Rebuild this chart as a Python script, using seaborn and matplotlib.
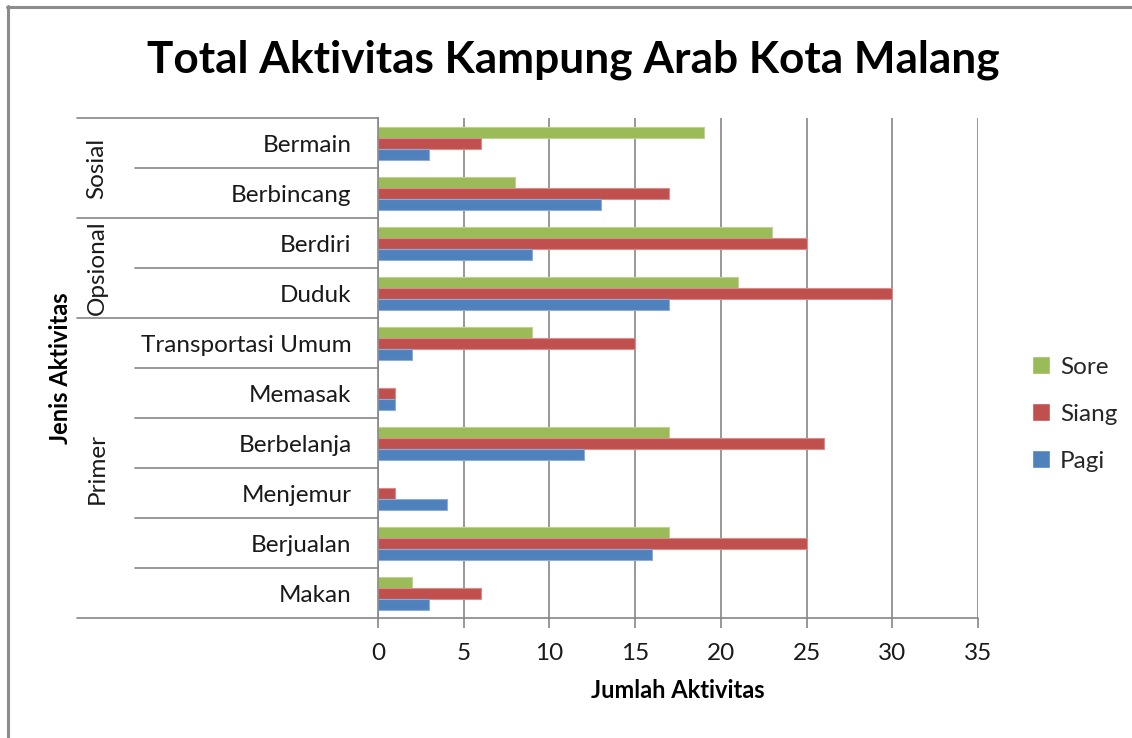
import matplotlib
matplotlib.use("Agg")
import matplotlib.pyplot as plt
import matplotlib.colors as mcolors
from matplotlib.lines import Line2D
from matplotlib.transforms import blended_transform_factory
import seaborn as sns
import pandas as pd

# Activities listed top to bottom
activities = ["Bermain", "Berbincang", "Berdiri", "Duduk", "Transportasi Umum",
              "Memasak", "Berbelanja", "Menjemur", "Berjualan", "Makan"]
# (group name, first index, end index) over the activity list
groups = [("Sosial", 0, 2), ("Opsional", 2, 4), ("Primer", 4, 10)]

sore = [19, 8, 23, 21, 9, 0, 17, 0, 17, 2]
siang = [6, 17, 25, 30, 15, 1, 26, 1, 25, 6]
pagi = [3, 13, 9, 17, 2, 1, 12, 4, 16, 3]

periods = ["Sore", "Siang", "Pagi"]
colors = ["#9BBB59", "#C0504D", "#4F81BD"]
x_ticks = [0, 5, 10, 15, 20, 25, 30, 35]

title = "Total Aktivitas Kampung Arab Kota Malang"
x_title = "Jumlah Aktivitas"
y_title = "Jenis Aktivitas"

rows = []
for name, values in zip(periods, [sore, siang, pagi]):
    for act, v in zip(activities, values):
        rows.append({"Aktivitas": act, "Waktu": name, "Jumlah": v})
df = pd.DataFrame(rows)

sns.set_theme(style="white")
plt.rcParams["font.family"] = ["Lato", "DejaVu Sans"]

W, H = 1132, 738
fig = plt.figure(figsize=(W / 100, H / 100), dpi=100)
fig.patch.set_facecolor("white")


def fx(px):
    return px / W


def fy(py):
    return 1 - py / H


ax = fig.add_axes([fx(378), fy(618), fx(978) - fx(378), fy(118) - fy(618)])

sns.barplot(data=df, y="Aktivitas", x="Jumlah", hue="Waktu",
            order=activities, hue_order=periods, palette=colors,
            orient="h", width=0.66, gap=0, errorbar=None, saturation=1,
            ax=ax)

# light outline on each bar, a tint of its fill
for cont, col in zip(ax.containers, colors):
    rgb = mcolors.to_rgb(col)
    edge = tuple(c + (1 - c) * 0.35 for c in rgb)
    for bar in cont:
        if bar.get_width() == 0:
            bar.set_visible(False)
        bar.set_edgecolor(edge)
        bar.set_linewidth(0.8)

handles, labels = ax.get_legend_handles_labels()
if ax.legend_ is not None:
    ax.legend_.remove()

grid_col = "#868686"
text_col = "#1a1a1a"
fs = 17.5
ax.set_xlim(0, 35)
ax.set_ylim(len(activities) - 0.5, -0.5)
ax.set_xticks(x_ticks)
ax.set_xticklabels([str(t) for t in x_ticks])
ax.xaxis.grid(True, color=grid_col, linewidth=1.2)
ax.yaxis.grid(False)
ax.set_axisbelow(True)
for side in ["top", "right", "bottom"]:
    ax.spines[side].set_visible(False)
ax.spines["left"].set_color(grid_col)
ax.spines["left"].set_linewidth(1.2)
ax.tick_params(axis="x", direction="out", length=7, width=1.2, color=grid_col,
               labelsize=fs, labelcolor=text_col, pad=11, bottom=True)
ax.tick_params(axis="y", length=0, labelsize=fs, labelcolor=text_col, pad=19)
ax.set_xlabel("")
ax.set_ylabel("")

# multi-level category axis lines
tr = blended_transform_factory(fig.transFigure, ax.transData)
bounds = {g[1] for g in groups} | {g[2] for g in groups}
for i in range(len(activities) + 1):
    y = i - 0.5
    x0 = fx(77) if i in bounds else fx(135)
    x1 = fx(978) if i == len(activities) else fx(378)
    fig.add_artist(Line2D([x0, x1], [y, y], transform=tr, color=grid_col,
                          linewidth=1.2, clip_on=False))

for name, a, b in groups:
    fig.text(fx(97), (a + b - 1) / 2, name, transform=tr, rotation=90,
             ha="center", va="center", fontsize=fs, color=text_col)

fig.text(fx(573), fy(60), title, ha="center", va="center", fontsize=31.8,
         fontweight="bold", color="black")
fig.text(fx(678), fy(690), x_title, ha="center", va="center", fontsize=17,
         fontweight="bold", color="black")
fig.text(fx(60), fy(368), y_title, ha="center", va="center", fontsize=17,
         fontweight="bold", rotation=90, color="black")

fig.legend(handles, labels, loc="center left",
           bbox_to_anchor=(fx(1032), fy(414)), frameon=False,
           fontsize=fs, handlelength=0.75, handleheight=0.75,
           handletextpad=0.4, labelspacing=1.05, borderaxespad=0,
           borderpad=0)

# outer chart frame
frame_col = "#8c8c8c"
fig.add_artist(Line2D([fx(7.5), fx(7.5)], [fy(6), 0], color=frame_col, linewidth=2.2))
fig.add_artist(Line2D([fx(6.5), 1], [fy(6.5), fy(6.5)], color=frame_col, linewidth=2.2))

fig.savefig("out.png", dpi=100)
